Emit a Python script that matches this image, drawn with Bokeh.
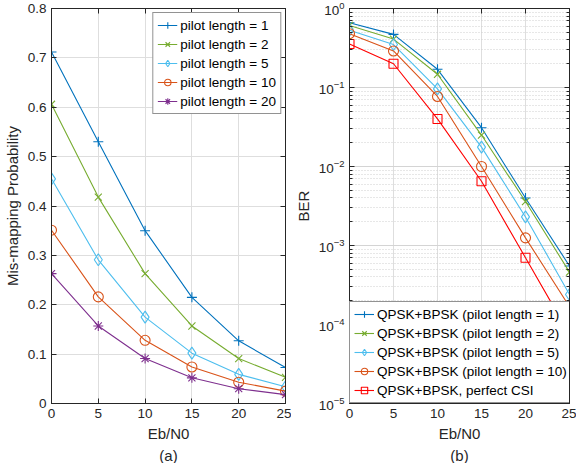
from bokeh.plotting import figure
from bokeh.layouts import row
from bokeh.models import (FixedTicker, LinearAxis, LogAxis, Title, Legend, LegendItem,
                          CustomJSTickFormatter)
from bokeh.embed import file_html
from bokeh.resources import INLINE

# ---------------- data ----------------
ebn0 = [0, 5, 10, 15, 20, 25]

# (a) mis-mapping probability
mm_p1 = [0.712, 0.530, 0.350, 0.215, 0.127, 0.073]
mm_p2 = [0.606, 0.418, 0.263, 0.157, 0.091, 0.053]
mm_p5 = [0.455, 0.291, 0.175, 0.102, 0.059, 0.034]
mm_p10 = [0.351, 0.216, 0.128, 0.074, 0.043, 0.025]
mm_p20 = [0.263, 0.157, 0.091, 0.052, 0.030, 0.018]

# (b) BER
ber_p1 = [0.66, 0.47, 0.17, 0.031, 0.0040, 5.5e-4]
ber_p2 = [0.61, 0.41, 0.147, 0.025, 0.0036, 4.6e-4]
ber_p5 = [0.53, 0.35, 0.096, 0.0176, 0.0023, 2.4e-4]
ber_p10 = [0.48, 0.29, 0.077, 0.010, 0.00125, 1.68e-4]
ber_csi = [0.355, 0.20, 0.040, 0.0065, 7.0e-4, 7.5e-5]

labels_a = ["pilot length = 1", "pilot length = 2", "pilot length = 5",
            "pilot length = 10", "pilot length = 20"]
labels_b = ["QPSK+BPSK (pilot length = 1)", "QPSK+BPSK (pilot length = 2)",
            "QPSK+BPSK (pilot length = 5)", "QPSK+BPSK (pilot length = 10)",
            "QPSK+BPSK, perfect CSI"]

x_ticks = [0, 5, 10, 15, 20, 25]
ya_ticks = [0, 0.1, 0.2, 0.3, 0.4, 0.5, 0.6, 0.7, 0.8]
yb_ticks = [1e-5, 1e-4, 1e-3, 1e-2, 1e-1, 1e0]

FONT = "Liberation Sans"
DARK = "#262626"
GRID = "#dedede"
TICK_FS = "13.5px"
LAB_FS = "15px"
LEG_FS = "13.5px"
H = 463


def style_axis(ax, label=True):
    ax.axis_line_color = DARK
    ax.major_tick_line_color = DARK
    ax.minor_tick_line_color = DARK
    ax.major_tick_in = 5
    ax.major_tick_out = 0
    ax.minor_tick_in = 3
    ax.minor_tick_out = 0
    ax.major_label_text_font = FONT
    ax.major_label_text_color = DARK
    ax.major_label_text_font_size = TICK_FS
    ax.axis_label_text_font = FONT
    ax.axis_label_text_font_size = LAB_FS
    ax.axis_label_text_font_style = "normal"
    ax.axis_label_text_color = DARK
    ax.major_label_standoff = 5
    ax.axis_label_standoff = 4
    if not label:
        ax.major_label_text_font_size = "0px"
        ax.formatter = CustomJSTickFormatter(code="return ''")
        ax.major_label_standoff = 0


def make_fig(width, log, ml, mr):
    kw = dict(width=width, height=H, output_backend="svg", toolbar_location=None,
              x_range=(0, 25), min_border_left=ml, min_border_right=mr,
              min_border_top=8, min_border_bottom=10)
    if log:
        p = figure(y_axis_type="log", y_range=(1e-5, 1), **kw)
    else:
        p = figure(y_range=(0, 0.8), **kw)
    p.outline_line_color = DARK
    p.outline_line_alpha = 1
    p.background_fill_color = "white"
    p.border_fill_color = "white"
    return p


# ---------------- figure (a) ----------------
pa = make_fig(291, False, 44, 6)
pa.xaxis.ticker = FixedTicker(ticks=x_ticks)
pa.yaxis.ticker = FixedTicker(ticks=ya_ticks)
pa.xaxis.axis_label = "Eb/N0"
pa.yaxis.axis_label = "Mis-mapping Probability"
style_axis(pa.xaxis[0])
style_axis(pa.yaxis[0])
pa.xaxis.minor_tick_in = 0
pa.yaxis.minor_tick_in = 0
for side in ("above", "right"):
    ax = LinearAxis(ticker=FixedTicker(ticks=x_ticks if side == "above" else ya_ticks))
    style_axis(ax, label=False)
    ax.minor_tick_in = 0
    pa.add_layout(ax, side)
pa.xgrid.grid_line_color = GRID
pa.ygrid.grid_line_color = GRID

colors_a = ["#0072BD", "#77AC30", "#4DBEEE", "#D95319", "#7E2F8E"]
markers_a = ["cross", "x", "diamond", "circle", "asterisk"]
series_a = [mm_p1, mm_p2, mm_p5, mm_p10, mm_p20]
items_a = []
for ys, c, m, lab in zip(series_a, colors_a, markers_a, labels_a):
    r1 = pa.line(ebn0, ys, line_color=c, line_width=1.1)
    sz = 12 if m == "diamond" else 10
    r2 = pa.scatter(ebn0, ys, marker=m, size=sz, line_color=c, fill_color=None, line_width=1.1)
    items_a.append(LegendItem(label=lab, renderers=[r1, r2]))
leg_a = Legend(items=items_a, location="top_right")
pa.add_layout(leg_a, "center")

pa.add_layout(Title(text="(a)", align="center", text_font=FONT, text_font_size=LAB_FS,
                    text_font_style="normal", text_color=DARK, standoff=0), "below")

# ---------------- figure (b) ----------------
pb = make_fig(285, True, 44, 7)
pb.xaxis.ticker = FixedTicker(ticks=x_ticks)
minor_b = [m * d for d in [1e-5, 1e-4, 1e-3, 1e-2, 1e-1] for m in range(2, 10)]
pb.yaxis.ticker = FixedTicker(ticks=yb_ticks, minor_ticks=minor_b)
pb.xaxis.axis_label = "Eb/N0"
pb.yaxis.axis_label = "BER"
style_axis(pb.xaxis[0])
style_axis(pb.yaxis[0])
pb.xaxis.minor_tick_in = 0
ax = LinearAxis(ticker=FixedTicker(ticks=x_ticks))
style_axis(ax, label=False)
ax.minor_tick_in = 0
pb.add_layout(ax, "above")
ax = LogAxis(ticker=FixedTicker(ticks=yb_ticks, minor_ticks=minor_b))
style_axis(ax, label=False)
pb.add_layout(ax, "right")
pb.xgrid.grid_line_color = GRID
pb.ygrid.grid_line_color = "#d4d4d4"
pb.ygrid.minor_grid_line_color = "#cfcfcf"
pb.ygrid.minor_grid_line_dash = "1 2"

colors_b = ["#0072BD", "#77AC30", "#4DBEEE", "#D95319", "#FF0000"]
markers_b = ["cross", "x", "diamond", "circle", "square"]
series_b = [ber_p1, ber_p2, ber_p5, ber_p10, ber_csi]
items_b = []
for ys, c, m, lab in zip(series_b, colors_b, markers_b, labels_b):
    r1 = pb.line(ebn0, ys, line_color=c, line_width=1.1)
    sz = 12 if m == "diamond" else (9 if m == "square" else 10)
    r2 = pb.scatter(ebn0, ys, marker=m, size=sz, line_color=c, fill_color=None, line_width=1.1)
    items_b.append(LegendItem(label=lab, renderers=[r1, r2]))
leg_b = Legend(items=items_b, location="bottom_left")
pb.add_layout(leg_b, "center")

pb.add_layout(Title(text="(b)", align="center", text_font=FONT, text_font_size=LAB_FS,
                    text_font_style="normal", text_color=DARK, standoff=0), "below")

for leg, mg in ((leg_a, 4), (leg_b, 0)):
    leg.margin = mg
    leg.padding = 4
    leg.spacing = 3
    leg.label_height = 16
    leg.glyph_height = 16
    leg.glyph_width = 20
    leg.label_standoff = 3
    leg.label_text_font = FONT
    leg.label_text_font_size = LEG_FS
    leg.label_text_color = "black"
    leg.border_line_color = DARK
    leg.border_line_width = 1
    leg.background_fill_alpha = 1
    leg.background_fill_color = "white"

layout = row(pa, pb)
open("out.html", "w").write(file_html(layout, INLINE))
